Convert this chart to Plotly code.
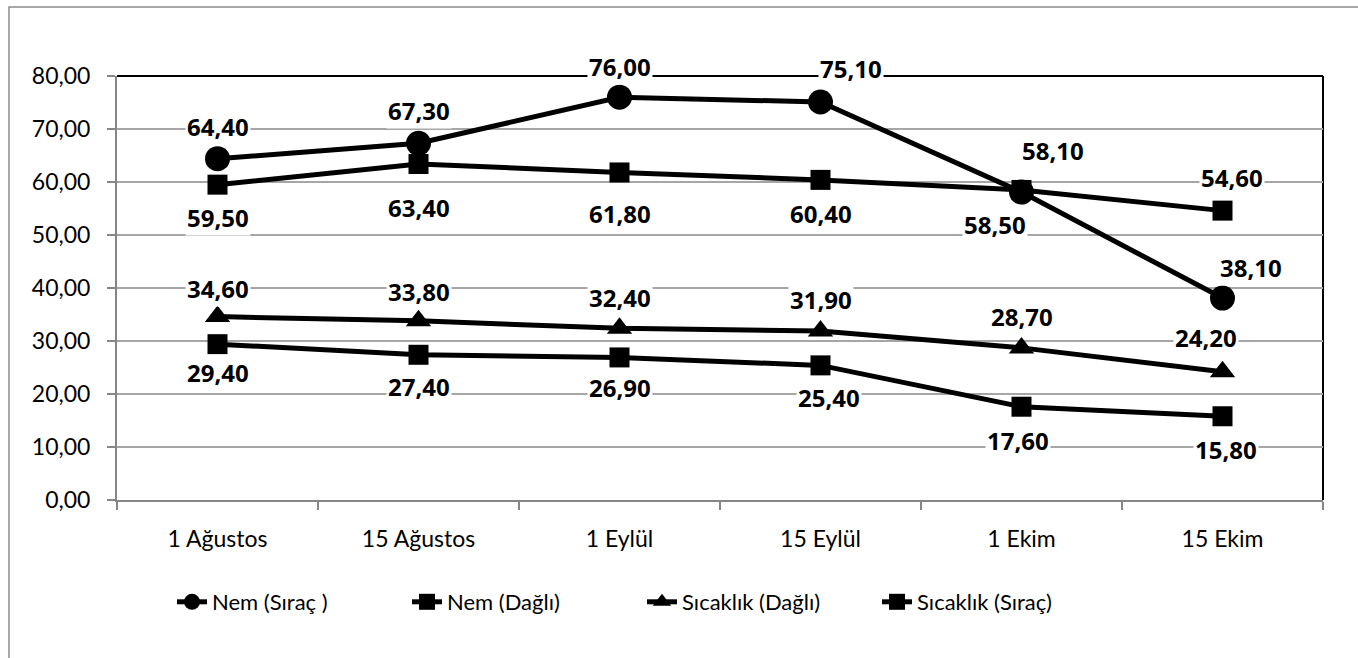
import plotly.graph_objects as go

categories = ["1 Ağustos", "15 Ağustos", "1 Eylül", "15 Eylül", "1 Ekim", "15 Ekim"]
nem_sirac = [64.4, 67.3, 76.0, 75.1, 58.1, 38.1]
nem_dagli = [59.5, 63.4, 61.8, 60.4, 58.5, 54.6]
sicaklik_dagli = [34.6, 33.8, 32.4, 31.9, 28.7, 24.2]
sicaklik_sirac = [29.4, 27.4, 26.9, 25.4, 17.6, 15.8]
y_ticks = [0, 10, 20, 30, 40, 50, 60, 70, 80]

series = [
    ("Nem (Sıraç )", nem_sirac, "circle", 25),
    ("Nem (Dağlı)", nem_dagli, "square", 20),
    ("Sıcaklık (Dağlı)", sicaklik_dagli, "triangle-up", 22),
    ("Sıcaklık (Sıraç)", sicaklik_sirac, "square", 20),
]

# label offsets (xshift, yshift) in px per series/point
offsets = [
    [(0, 32), (0, 33), (0, 31), (30, 33), (31, 42), (28, 31)],
    [(0, -33), (0, -44), (0, -41), (0, -34), (-27, -35), (9, 33)],
    [(0, 28), (0, 29), (0, 31), (0, 31), (0, 31), (-17, 34)],
    [(0, -28), (0, -32), (0, -30), (8, -32), (-4, -34), (3, -33)],
]

FONT = "Lato"
fig = go.Figure()
for name, vals, sym, sz in series:
    fig.add_trace(go.Scatter(
        x=categories, y=vals, name=name, mode="lines+markers",
        line=dict(color="black", width=5),
        marker=dict(symbol=sym, size=sz, color="black"),
        cliponaxis=False,
    ))

annotations = []
for (name, vals, sym, sz), offs in zip(series, offsets):
    for c, v, (dx, dy) in zip(categories, vals, offs):
        annotations.append(dict(
            x=c, y=v, xref="x", yref="y", text="<b>" + f"{v:.2f}".replace(".", ",") + "</b>",
            showarrow=False, xshift=dx, yshift=dy, bgcolor="white", borderpad=1,
            font=dict(family="Open Sans", size=24, color="black"),
        ))

W, H = 1358, 658
L, R, T, B = 117, 1323, 76, 500
pw, ph = R - L, B - T

def px(x):
    return (x - L) / pw

def py(y):
    return (B - y) / ph

shapes = [
    # outer chart border
    dict(type="rect", xref="paper", yref="paper", x0=px(9), x1=px(1380), y0=py(700), y1=py(7),
         line=dict(color="#8c8c8c", width=1.5), layer="below"),
    # plot area border top/right
    dict(type="line", xref="paper", yref="paper", x0=0, x1=1, y0=1, y1=1,
         line=dict(color="black", width=2), layer="below"),
    dict(type="line", xref="paper", yref="paper", x0=1, x1=1, y0=0, y1=1,
         line=dict(color="black", width=2), layer="below"),
]

fig.update_layout(
    width=W, height=H,
    margin=dict(l=L, r=W - R, t=T, b=H - B, autoexpand=False),
    paper_bgcolor="white", plot_bgcolor="white",
    separators=",.",
    font=dict(family=FONT, size=22, color="black"),
    showlegend=True,
    legend=dict(orientation="h", x=px(172), xanchor="left", y=py(602), yanchor="middle",
                font=dict(family=FONT, size=22, color="black"),
                entrywidth=190, entrywidthmode="pixels", itemsizing="trace"),
    annotations=annotations,
    shapes=shapes,
    xaxis=dict(
        type="category", range=[-0.5, 5.5], showgrid=False, automargin=False,
        showline=True, linecolor="#868686", linewidth=2,
        ticks="outside", ticklen=8, tickcolor="#868686", tickwidth=1.5,
        tickson="boundaries", ticklabelstandoff=17,
        tickfont=dict(family=FONT, size=23, color="black"), zeroline=False,
    ),
    yaxis=dict(
        range=[0, 80], tickvals=y_ticks, tickformat=".2f", automargin=False,
        showgrid=True, gridcolor="#a6a6a6", gridwidth=1.5,
        showline=True, linecolor="#868686", linewidth=2,
        ticks="outside", ticklen=8, tickcolor="#868686", tickwidth=1.5,
        ticklabelstandoff=12,
        tickfont=dict(family=FONT, size=23, color="black"), zeroline=False,
    ),
)

fig.write_html("out.html", config={"displayModeBar": False},
               post_script="document.body.style.margin='0px';document.body.style.overflow='hidden';")
